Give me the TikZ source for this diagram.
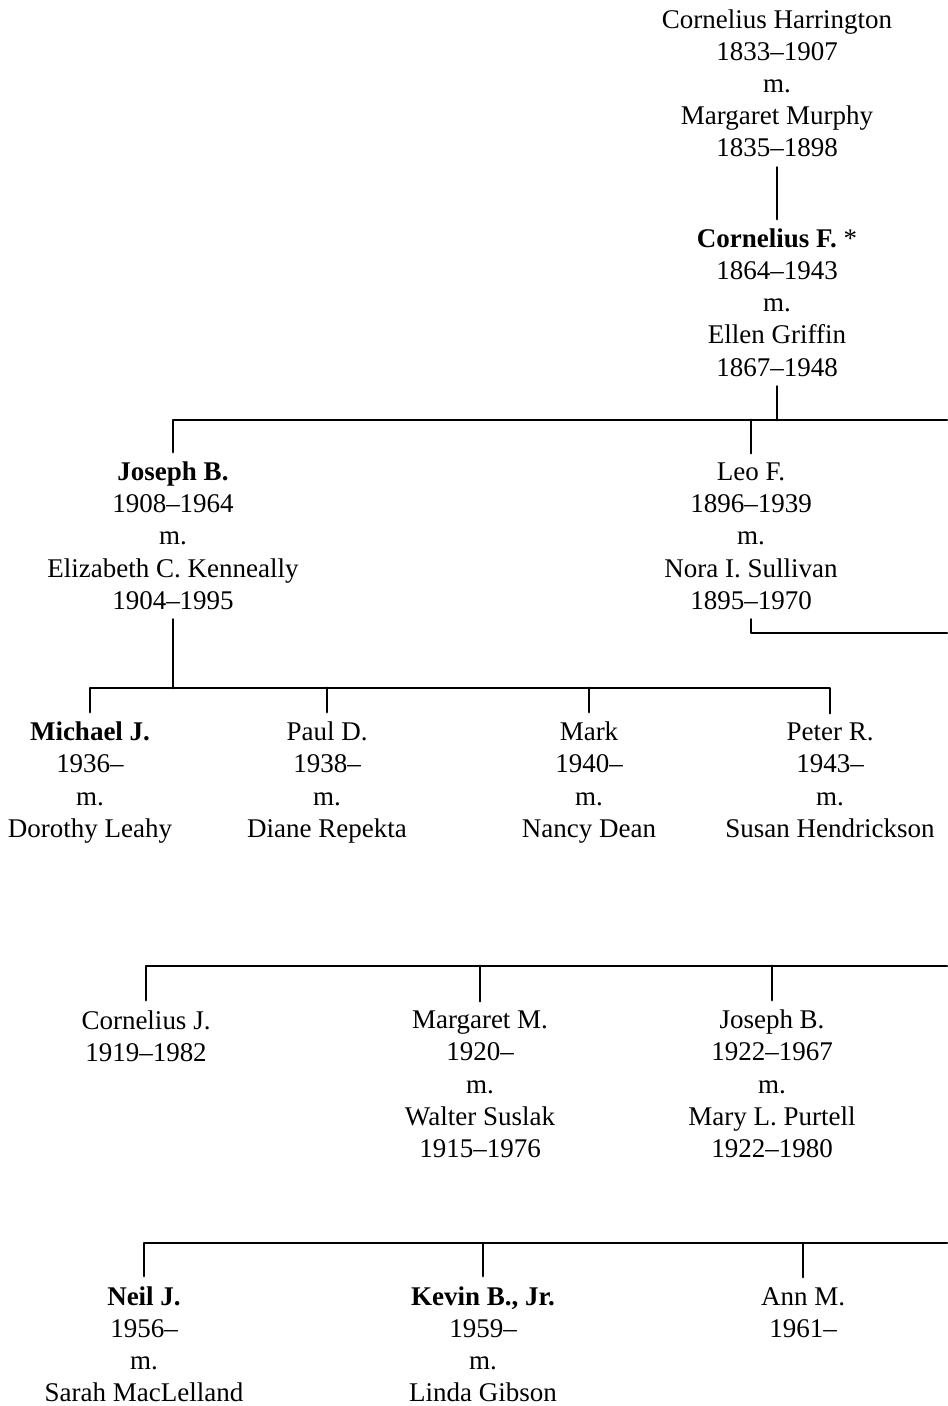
\documentclass[tikz,border=0pt]{standalone}
\usepackage{fontspec}
\setmainfont{Liberation Serif}
\usepackage{tikz}

\begin{document}
\begin{tikzpicture}[line cap=round,line join=round,x=0.025cm,y=-0.025cm,
  person/.style={anchor=base,align=center,inner xsep=0pt,inner ysep=7pt,
    font=\fontsize{19.2}{22.76}\selectfont},
  link/.style={line width=2pt}]
\useasboundingbox (0,0) rectangle (947,1406);
\node[person] (harr) at (777,157) {Cornelius Harrington\\1833--1907\\m.\\Margaret Murphy\\1835--1898};
\node[person] (cornf) at (777,376) {\textbf{Cornelius F.} *\\1864--1943\\m.\\Ellen Griffin\\1867--1948};
\node[person] (jos) at (173,609) {\textbf{Joseph B.}\\1908--1964\\m.\\Elizabeth C. Kenneally\\1904--1995};
\node[person] (leo) at (751,609) {Leo F.\\1896--1939\\m.\\Nora I. Sullivan\\1895--1970};
\node[person] (mich) at (90,837) {\textbf{Michael J.}\\1936--\\m.\\Dorothy Leahy};
\node[person] (paul) at (327,837) {Paul D.\\1938--\\m.\\Diane Repekta};
\node[person] (mark) at (589,837) {Mark\\1940--\\m.\\Nancy Dean};
\node[person] (pete) at (830,837) {Peter R.\\1943--\\m.\\Susan Hendrickson};
\node[person] (corj) at (146,1061) {Cornelius J.\\1919--1982};
\node[person] (marg) at (480,1157) {Margaret M.\\1920--\\m.\\Walter Suslak\\1915--1976};
\node[person] (josb) at (772,1157) {Joseph B.\\1922--1967\\m.\\Mary L. Purtell\\1922--1980};
\node[person] (neil) at (144,1401) {\textbf{Neil J.}\\1956--\\m.\\Sarah MacLelland};
\node[person] (kevin) at (483,1401) {\textbf{Kevin B., Jr.}\\1959--\\m.\\Linda Gibson};
\node[person] (ann) at (803,1337) {Ann M.\\1961--};
\coordinate (bara) at (947,420);
\coordinate (barb) at (500,688);
\coordinate (leoend) at (947,633);
\coordinate (barc) at (947,966);
\coordinate (bard) at (947,1243);
\draw[link] (harr.south) -- (cornf.north);
\draw[link] (cornf.south) -- (cornf.south |- bara);
\draw[link] (jos.north) |- (bara);
\draw[link] (leo.north) -- (leo.north |- bara);
\draw[link] (leo.south) |- (leoend);
\draw[link] (jos.south) -- (jos.south |- barb);
\draw[link] (mich.north) |- (barb) -| (pete.north);
\draw[link] (paul.north) -- (paul.north |- barb);
\draw[link] (mark.north) -- (mark.north |- barb);
\draw[link] (corj.north) |- (barc);
\draw[link] (marg.north) -- (marg.north |- barc);
\draw[link] (josb.north) -- (josb.north |- barc);
\draw[link] (neil.north) |- (bard);
\draw[link] (kevin.north) -- (kevin.north |- bard);
\draw[link] (ann.north) -- (ann.north |- bard);
\end{tikzpicture}
\end{document}
